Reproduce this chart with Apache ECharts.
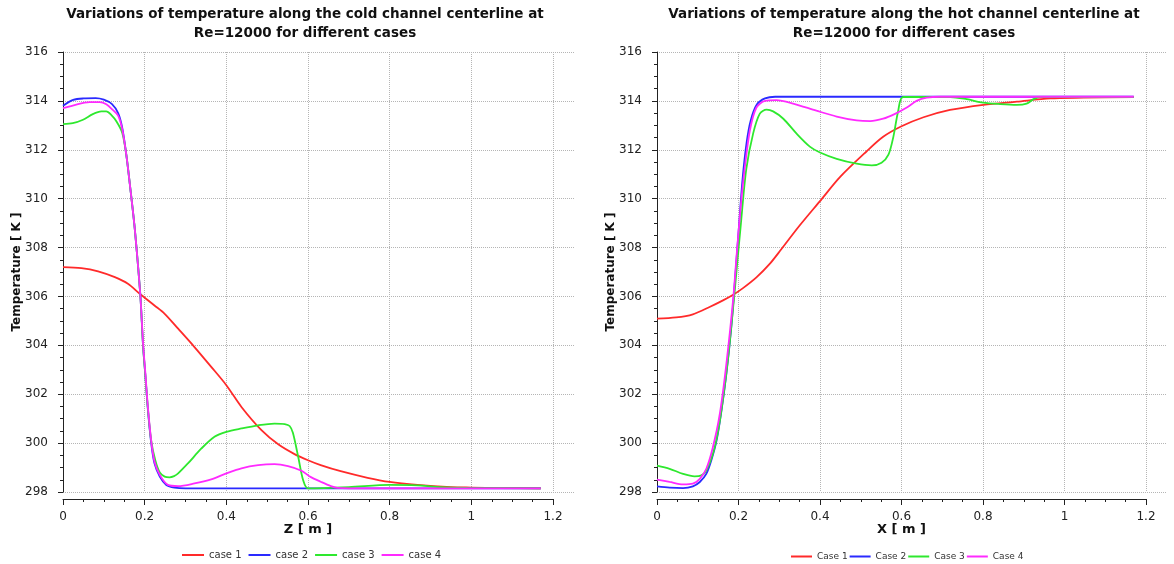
<!DOCTYPE html>
<html>
<head>
<meta charset="utf-8">
<script src="https://cdn.jsdelivr.net/npm/echarts@6/dist/echarts.min.js"></script>
<style>
html,body{margin:0;padding:0;background:#fff;}
#c{width:1174px;height:564px;}
</style>
</head>
<body>
<div id="c"></div>
<script>
// ---------- Data: cold channel (Z [m]) ----------
const coldZ1 = [0, 0.045, 0.086, 0.127, 0.159, 0.188, 0.224, 0.249, 0.282, 0.322, 0.363, 0.4, 0.437, 0.486, 0.527, 0.567, 0.6, 0.631, 0.68, 0.746, 0.8, 0.868, 0.95, 1.0, 1.07, 1.17];
const coldT1 = [307.2, 307.16, 307.03, 306.79, 306.52, 306.11, 305.63, 305.29, 304.68, 303.93, 303.12, 302.37, 301.48, 300.53, 299.95, 299.55, 299.3, 299.1, 298.85, 298.58, 298.41, 298.29, 298.2, 298.18, 298.16, 298.15];

const coldZ2 = [0, 0.025, 0.05, 0.08, 0.1, 0.12, 0.135, 0.145, 0.155, 0.165, 0.175, 0.183, 0.19, 0.196, 0.202, 0.208, 0.216, 0.224, 0.237, 0.253, 0.273, 0.3, 0.5, 0.8, 1.17];
const coldT2 = [313.8, 314.04, 314.1, 314.11, 314.05, 313.87, 313.5, 312.9, 311.8, 310.4, 308.9, 307.4, 305.9, 304.0, 302.7, 301.35, 300.0, 299.17, 298.63, 298.29, 298.18, 298.15, 298.15, 298.15, 298.15];

const coldZ3 = [0, 0.024, 0.049, 0.073, 0.094, 0.106, 0.118, 0.131, 0.145, 0.155, 0.165, 0.175, 0.183, 0.19, 0.196, 0.202, 0.208, 0.216, 0.226, 0.237, 0.249, 0.261, 0.272, 0.282, 0.306, 0.339, 0.371, 0.4, 0.437, 0.478, 0.518, 0.543, 0.555, 0.563, 0.576, 0.588, 0.6, 0.7, 0.8, 0.868, 0.925, 0.99, 1.17];
const coldT3 = [313.05, 313.09, 313.23, 313.46, 313.57, 313.57, 313.43, 313.16, 312.7, 311.8, 310.4, 308.9, 307.4, 305.9, 304.0, 302.7, 301.4, 300.1, 299.3, 298.8, 298.63, 298.6, 298.65, 298.76, 299.17, 299.78, 300.26, 300.46, 300.6, 300.73, 300.8, 300.78, 300.7, 300.42, 299.44, 298.49, 298.15, 298.2, 298.29, 298.27, 298.2, 298.17, 298.15];

const coldZ4 = [0, 0.024, 0.065, 0.09, 0.106, 0.122, 0.135, 0.145, 0.155, 0.165, 0.175, 0.183, 0.19, 0.196, 0.202, 0.208, 0.216, 0.224, 0.237, 0.257, 0.282, 0.322, 0.363, 0.4, 0.437, 0.478, 0.518, 0.551, 0.584, 0.606, 0.631, 0.656, 0.672, 0.7, 1.17];
const coldT4 = [313.7, 313.81, 313.95, 313.95, 313.86, 313.63, 313.4, 312.85, 311.8, 310.4, 308.9, 307.4, 305.9, 304.1, 302.8, 301.45, 300.1, 299.25, 298.7, 298.29, 298.24, 298.35, 298.52, 298.76, 298.97, 299.1, 299.14, 299.06, 298.87, 298.62, 298.42, 298.24, 298.17, 298.15, 298.15];

// ---------- Data: hot channel (X [m]) ----------
const hotX1 = [0, 0.047, 0.088, 0.129, 0.162, 0.187, 0.211, 0.244, 0.276, 0.305, 0.35, 0.4, 0.45, 0.514, 0.555, 0.6, 0.654, 0.719, 0.801, 0.883, 0.965, 1.047, 1.17];
const hotT1 = [305.09, 305.14, 305.27, 305.57, 305.84, 306.07, 306.34, 306.78, 307.32, 307.93, 308.9, 309.9, 310.9, 311.93, 312.53, 312.96, 313.33, 313.63, 313.84, 313.97, 314.1, 314.13, 314.16];

const hotX2 = [0, 0.031, 0.064, 0.088, 0.105, 0.121, 0.133, 0.146, 0.158, 0.17, 0.182, 0.191, 0.2, 0.21, 0.22, 0.23, 0.245, 0.265, 0.29, 0.6, 1.17];
const hotT2 = [298.23, 298.18, 298.16, 298.23, 298.41, 298.74, 299.28, 300.09, 301.31, 302.8, 304.69, 306.58, 308.6, 310.8, 312.3, 313.2, 313.85, 314.1, 314.17, 314.17, 314.17];

const hotX3 = [0, 0.031, 0.064, 0.092, 0.109, 0.121, 0.137, 0.15, 0.162, 0.174, 0.186, 0.196, 0.206, 0.219, 0.236, 0.252, 0.269, 0.285, 0.31, 0.342, 0.375, 0.4, 0.441, 0.49, 0.527, 0.551, 0.568, 0.58, 0.592, 0.604, 0.72, 0.76, 0.8, 0.842, 0.883, 0.907, 0.924, 0.94, 1.17];
const hotT3 = [299.08, 298.95, 298.74, 298.64, 298.68, 298.88, 299.55, 300.5, 301.8, 303.4, 305.4, 307.2, 309.0, 311.2, 312.67, 313.47, 313.64, 313.57, 313.27, 312.67, 312.13, 311.89, 311.63, 311.43, 311.36, 311.47, 311.8, 312.53, 313.6, 314.16, 314.16, 314.07, 313.93, 313.87, 313.84, 313.89, 314.07, 314.16, 314.16];

const hotX4 = [0, 0.031, 0.064, 0.088, 0.105, 0.121, 0.137, 0.154, 0.17, 0.187, 0.195, 0.205, 0.215, 0.228, 0.244, 0.265, 0.293, 0.334, 0.391, 0.441, 0.49, 0.523, 0.555, 0.584, 0.613, 0.637, 0.662, 0.695, 1.17];
const hotT4 = [298.51, 298.41, 298.31, 298.34, 298.54, 298.95, 299.82, 301.18, 303.2, 305.9, 307.6, 309.6, 311.2, 312.8, 313.73, 314.0, 314.03, 313.89, 313.6, 313.36, 313.2, 313.17, 313.27, 313.47, 313.73, 314.0, 314.13, 314.17, 314.17];

const coldNames = ['case 1', 'case 2', 'case 3', 'case 4'];
const hotNames = ['Case 1', 'Case 2', 'Case 3', 'Case 4'];
const xTicks = { min: 0, max: 1.2, interval: 0.2 };
const yTicks = { min: 298, max: 316, interval: 2 };

const colors = ['#ff2a2a', '#2a2aff', '#2ee82e', '#ff2aff'];
const FONT = 'DejaVu Sans';

function pairs(xs, ys) { return xs.map((x, i) => [x, ys[i]]); }

const chart = echarts.init(document.getElementById('c'), null, { renderer: 'canvas' });

function dataXAxis(gridIndex, name) {
  return {
    gridIndex, type: 'value', min: xTicks.min, max: xTicks.max, interval: xTicks.interval,
    offset: 7,
    name, nameLocation: 'middle', nameGap: 24, nameMoveOverlap: false,
    nameTextStyle: { fontFamily: FONT, fontWeight: 'bold', fontSize: 13, color: '#111' },
    axisLine: { show: true, lineStyle: { color: '#222', width: 1 } },
    axisTick: { show: true, length: 6, lineStyle: { color: '#222' } },
    minorTick: { show: true, splitNumber: 4, length: 3, lineStyle: { color: '#222' } },
    axisLabel: { fontFamily: FONT, fontSize: 12, color: '#222', margin: 12 },
    splitLine: { show: true, lineStyle: { color: '#b5b5b5', type: 'dotted', width: 1 } }
  };
}
function dataYAxis(gridIndex) {
  return {
    gridIndex, type: 'value', min: yTicks.min, max: yTicks.max, interval: yTicks.interval,
    offset: 6,
    name: 'Temperature [ K ]', nameLocation: 'middle', nameGap: 34, nameRotate: 90, nameMoveOverlap: false,
    nameTextStyle: { fontFamily: FONT, fontWeight: 'bold', fontSize: 12, color: '#111' },
    axisLine: { show: true, lineStyle: { color: '#222', width: 1 } },
    axisTick: { show: true, length: 5, lineStyle: { color: '#222' } },
    minorTick: { show: true, splitNumber: 4, length: 3, lineStyle: { color: '#222' } },
    axisLabel: { fontFamily: FONT, fontSize: 12, color: '#222', margin: 9 },
    splitLine: { show: false }
  };
}
function gridYAxis(gridIndex) {
  return {
    gridIndex, type: 'value', min: yTicks.min, max: yTicks.max, interval: yTicks.interval,
    axisLine: { show: false }, axisTick: { show: false }, axisLabel: { show: false },
    splitLine: { show: true, lineStyle: { color: '#b5b5b5', type: 'dotted', width: 1 } }
  };
}
function lineSeries(name, xi, yi, data, color) {
  return {
    name, type: 'line', xAxisIndex: xi, yAxisIndex: yi, data,
    symbol: 'none', smooth: 0.3,
    lineStyle: { color, width: 1.8 }, itemStyle: { color },
    animation: false
  };
}

const coldX = [coldZ1, coldZ2, coldZ3, coldZ4];
const coldY = [coldT1, coldT2, coldT3, coldT4];
const hotXs = [hotX1, hotX2, hotX3, hotX4];
const hotY = [hotT1, hotT2, hotT3, hotT4];

const series = [];
for (let i = 0; i < 4; i++) series.push(lineSeries(coldNames[i], 0, 0, pairs(coldX[i], coldY[i]), colors[i]));
for (let i = 0; i < 4; i++) series.push(lineSeries(hotNames[i], 2, 2, pairs(hotXs[i], hotY[i]), colors[i]));

const titleStyle = { fontFamily: FONT, fontWeight: 'bold', fontSize: 13.5, lineHeight: 19, color: '#111' };

const option = {
  backgroundColor: '#ffffff',
  animation: false,
  title: [
    { text: 'Variations of temperature along the cold channel centerline at\nRe=12000 for different cases',
      left: 300, top: 0, textAlign: 'center', textStyle: titleStyle },
    { text: 'Variations of temperature along the hot channel centerline at\nRe=12000 for different cases',
      left: 899, top: 0, textAlign: 'center', textStyle: titleStyle }
  ],
  legend: [
    { data: coldNames, left: 177, top: 545, icon: 'rect', itemHeight: 2, itemWidth: 22, itemGap: 7,
      textStyle: { fontFamily: FONT, fontSize: 10, color: '#333' } },
    { data: hotNames, left: 786, top: 547, icon: 'rect', itemHeight: 2, itemWidth: 21, itemGap: 2,
      textStyle: { fontFamily: FONT, fontSize: 9, color: '#333' } }
  ],
  grid: [
    { left: 63, top: 52, width: 490, height: 440 },
    { left: 63, top: 52, width: 512, height: 440 },
    { left: 657, top: 52, width: 489, height: 440 },
    { left: 657, top: 52, width: 510, height: 440 }
  ],
  xAxis: [
    dataXAxis(0, 'Z [ m ]'),
    { gridIndex: 1, type: 'value', show: false, min: 0, max: 1 },
    dataXAxis(2, 'X [ m ]'),
    { gridIndex: 3, type: 'value', show: false, min: 0, max: 1 }
  ],
  yAxis: [
    dataYAxis(0),
    gridYAxis(1),
    dataYAxis(2),
    gridYAxis(3)
  ],
  series
};
chart.setOption(option);
</script>
</body>
</html>
